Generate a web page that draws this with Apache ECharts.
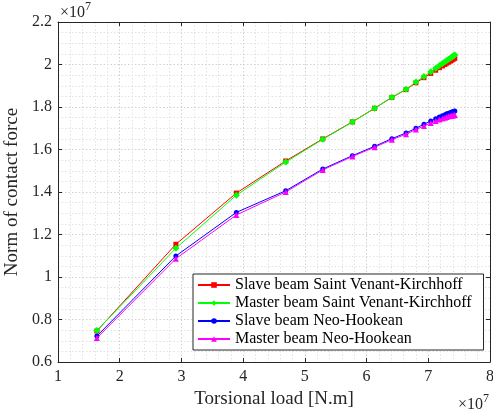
<!DOCTYPE html>
<html><head><meta charset="utf-8">
<script src="https://cdn.jsdelivr.net/npm/echarts@6/dist/echarts.min.js"></script>
<style>html,body{margin:0;padding:0;background:#fff}#c{width:493px;height:414px}</style>
</head><body><div id="c"></div>
<script>
var loads = [1.63, 2.91, 3.89, 4.69, 5.29, 5.77, 6.13, 6.41, 6.64, 6.80, 6.93, 7.04, 7.12, 7.18, 7.23, 7.27, 7.30, 7.33, 7.36, 7.38, 7.40, 7.42, 7.43];
var slaveSVK = [0.746, 1.154, 1.395, 1.546, 1.650, 1.730, 1.794, 1.845, 1.882, 1.914, 1.938, 1.958, 1.973, 1.985, 1.993, 2.000, 2.006, 2.011, 2.016, 2.020, 2.024, 2.028, 2.030];
var masterSVK = [0.748, 1.135, 1.385, 1.541, 1.648, 1.729, 1.794, 1.846, 1.883, 1.918, 1.944, 1.966, 1.982, 1.995, 2.005, 2.013, 2.019, 2.025, 2.031, 2.035, 2.039, 2.043, 2.045];
var slaveNH = [0.722, 1.099, 1.304, 1.406, 1.508, 1.571, 1.615, 1.651, 1.678, 1.700, 1.719, 1.734, 1.745, 1.753, 1.759, 1.764, 1.768, 1.771, 1.774, 1.776, 1.778, 1.780, 1.781];
var masterNH = [0.713, 1.086, 1.292, 1.400, 1.504, 1.567, 1.611, 1.646, 1.672, 1.694, 1.711, 1.725, 1.734, 1.741, 1.746, 1.750, 1.753, 1.756, 1.758, 1.759, 1.760, 1.761, 1.762];
var seriesNames = ['Slave beam Saint Venant-Kirchhoff', 'Master beam Saint Venant-Kirchhoff', 'Slave beam Neo-Hookean', 'Master beam Neo-Hookean'];
var xTitle = 'Torsional load [N.m]';
var yTitle = 'Norm of contact force';

var FONT = 'Liberation Serif';
var AX = '#262626';
function pairs(ys){ return loads.map(function(x,i){ return [x, ys[i]]; }); }
var specs = [
  {d: slaveSVK, c: '#ff0000', s: 'rect', z: 5, sz: 5},
  {d: masterSVK, c: '#00ff00', s: 'diamond', z: 6, sz: 7},
  {d: slaveNH, c: '#0000ff', s: 'circle', z: 7, sz: 5},
  {d: masterNH, c: '#ff00ff', s: 'triangle', z: 8, sz: 6}
];
var series = specs.map(function(p, i){
  return {
    name: seriesNames[i], type: 'line', data: pairs(p.d), symbol: p.s, symbolSize: p.sz,
    z: p.z, color: p.c, lineStyle: {color: p.c, width: 1}, itemStyle: {color: p.c},
    animation: false
  };
});
var gridLine = {show: true, lineStyle: {color: '#d0d0d0', type: [1.5, 2], width: 1}};
var minorLine = {show: true, lineStyle: {color: '#e2e2e2', type: [1.5, 2], width: 1}};
function xAx(pos, labels){
  return {type: 'value', min: 1, max: 8, interval: 1, position: pos,
    axisLine: {show: true, lineStyle: {color: AX, width: 1}},
    axisTick: {show: true, inside: true, length: 4, lineStyle: {color: AX}},
    minorTick: {show: false, splitNumber: 5},
    splitLine: labels ? gridLine : {show: false},
    minorSplitLine: labels ? minorLine : {show: false},
    axisLabel: {show: labels, color: AX, fontFamily: FONT, fontSize: 16, margin: 7},
    name: labels ? xTitle : '', nameLocation: 'middle', nameGap: 26,
    nameTextStyle: {color: AX, fontFamily: FONT, fontSize: 19}};
}
function yAx(pos, labels){
  return {type: 'value', min: 0.6, max: 2.2, interval: 0.2, position: pos,
    axisLine: {show: true, lineStyle: {color: AX, width: 1}},
    axisTick: {show: true, inside: true, length: 4, lineStyle: {color: AX}},
    minorTick: {show: false, splitNumber: 4},
    splitLine: labels ? gridLine : {show: false},
    minorSplitLine: labels ? minorLine : {show: false},
    axisLabel: {show: labels, color: AX, fontFamily: FONT, fontSize: 16, margin: 6,
      formatter: function(v){ return String(Math.round(v*10)/10); }},
    name: labels ? yTitle : '', nameLocation: 'middle', nameGap: 28,
    nameTextStyle: {color: AX, fontFamily: FONT, fontSize: 19}};
}
var chart = echarts.init(document.getElementById('c'), null, {renderer: 'canvas'});
var x10 = {text: '{a|×10}{b|7}', rich: {a: {fontFamily: FONT, fontSize: 16, fill: AX, verticalAlign:'bottom'}, b: {fontFamily: FONT, fontSize: 12, fill: AX, verticalAlign: 'top', padding:[0,0,8,0]}}};
chart.setOption({
  backgroundColor: '#fff',
  animation: false,
  grid: {left: 58, right: 3, top: 22, bottom: 52, containLabel: false, outerBoundsMode: 'none'},
  xAxis: [xAx('bottom', true), xAx('top', false)],
  yAxis: [yAx('left', true), yAx('right', false)],
  legend: {
    orient: 'vertical', left: 193, top: 274,
    backgroundColor: '#fff', borderColor: AX, borderWidth: 1,
    padding: [3, 12, 3, 4], itemWidth: 32, itemHeight: 7, itemGap: 2,
    textStyle: {color: '#000', fontFamily: FONT, fontSize: 16},
    data: seriesNames
  },
  series: series,
  graphic: [
    {type: 'text', left: 60, top: 1, style: x10},
    {type: 'text', left: 458, top: 393, style: x10}
  ]
});
</script></body></html>
